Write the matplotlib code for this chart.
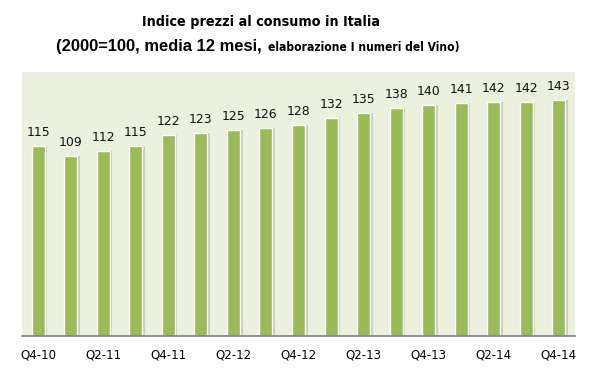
import matplotlib.pyplot as plt

quarters = ['Q4-10', 'Q1-11', 'Q2-11', 'Q3-11', 'Q4-11', 'Q1-12', 'Q2-12', 'Q3-12',
            'Q4-12', 'Q1-13', 'Q2-13', 'Q3-13', 'Q4-13', 'Q1-14', 'Q2-14', 'Q3-14', 'Q4-14']
values = [115, 109, 112, 115, 122, 123, 125, 126, 128, 132, 135, 138, 140, 141, 142, 142, 143]

bar_color = '#9BBB59'
bg_color = '#EBF1DE'

fig = plt.figure(figsize=(5.97, 3.85), dpi=100)
ax = fig.add_axes([22 / 597, 1 - 336 / 385, 553 / 597, 264 / 385])
ax.set_facecolor(bg_color)

x = list(range(len(values)))
# soft shadow behind bars
ax.bar([i + 0.07 for i in x], values, width=0.42, color='#C9CCC0', zorder=1)
bars = ax.bar(x, values, width=0.4, color=bar_color, edgecolor='white', linewidth=1.0, zorder=2)

for i, v in enumerate(values):
    ax.annotate(str(v), (i, v), xytext=(0, 5), textcoords='offset points',
                ha='center', va='bottom', fontsize=9, color='#111111')

ax.set_xlim(-0.5, len(values) - 0.5)
ax.set_ylim(0, 160)
ax.set_yticks([])
ax.set_xticks(x[::2])
ax.set_xticklabels(quarters[::2], fontsize=8.5)
ax.tick_params(axis='x', length=0, pad=9)
for side in ['top', 'right', 'left']:
    ax.spines[side].set_visible(False)
ax.spines['bottom'].set_color('#808080')
ax.spines['bottom'].set_linewidth(1.2)

# title pieces: (text, left px, right px, y px from top, size, family, stretch)
title_parts = [
    ('Indice prezzi al consumo in Italia', 142, 380, 22, 13, 'DejaVu Sans', 'condensed'),
    ('(2000=100, media 12 mesi,', 56, 262, 46, 13, 'Liberation Sans', 'normal'),
    ('elaborazione I numeri del Vino)', 268, 460, 47, 10.5, 'DejaVu Sans', 'condensed'),
]
renderer = fig.canvas.get_renderer()
for txt, x0, x1, ypx, fs, fam, stretch in title_parts:
    t = fig.text(x0 / 597, 1 - ypx / 385, txt, ha='left', va='center', fontsize=fs,
                 fontweight='bold', family=fam, fontstretch=stretch)
    w = t.get_window_extent(renderer).width
    t.set_fontsize(fs * (x1 - x0) / w)

fig.savefig('out.png', dpi=100, facecolor='white')
